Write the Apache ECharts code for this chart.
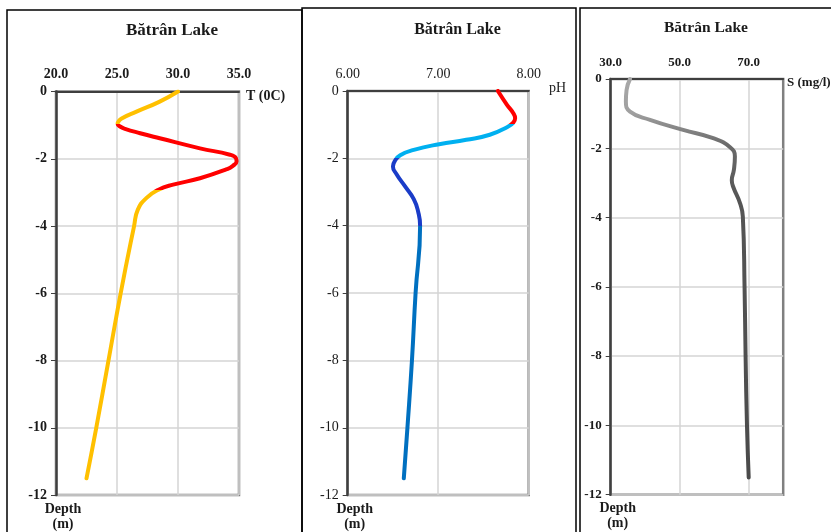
<!DOCTYPE html>
<html><head><meta charset="utf-8">
<script src="https://cdn.jsdelivr.net/npm/echarts@6/dist/echarts.min.js"></script>
<style>html,body{margin:0;padding:0;background:#fff}#c{width:831px;height:532px}</style>
</head><body><div id="c"></div>
<script>
// ---- data: [value, depth (m)] ----
const titleText = 'Bătrân Lake';
const tempName = 'T (0C)';
const phName = 'pH';
const salName = 'S (mg/l)';
const depthName = 'Depth\n(m)';

const tempTicks = [20, 25, 30, 35];
const phTicks = [6, 7, 8];
const salTicks = [30, 50, 70];

const tempProfile = [[30.0,0],[28.5,-0.3],[26.6,-0.6],[25.38,-0.80],[25.11,-0.90],[25.05,-0.96],[25.25,-1.04],[25.66,-1.11],[26.9,-1.24],[28.5,-1.39],[31.8,-1.69],[34.26,-1.88],[34.75,-1.98],[34.8,-2.08],[34.5,-2.21],[34.0,-2.31],[31.8,-2.58],[29.6,-2.77],[28.4,-2.92],[27.4,-3.17],[26.7,-3.52],[26.4,-4.0],[25.3,-6.0],[24.3,-8.0],[23.3,-10.0],[22.5,-11.5]];
const tempBreaks = [-0.96, -2.92];            // depth where colour changes
const tempColors = ['#FFC000', '#FF0000', '#FFC000'];

const phProfile = [[7.66,0],[7.76,-0.41],[7.83,-0.66],[7.85,-0.81],[7.83,-0.94],[7.77,-1.06],[7.57,-1.30],[7.31,-1.45],[7.01,-1.58],[6.73,-1.75],[6.58,-1.91],[6.52,-2.08],[6.50,-2.24],[6.54,-2.47],[6.63,-2.82],[6.73,-3.21],[6.78,-3.60],[6.80,-4.0],[6.75,-6.0],[6.71,-8.0],[6.66,-10.0],[6.62,-11.5]];
const phBreaks = [-0.97, -2.0, -4.0];
const phColors = ['#FF0000', '#00B0F0', '#1A3CC8', '#0070C0'];

const salProfile = [[35.6,0],[34.6,-0.32],[34.4,-0.65],[35.6,-0.94],[41.4,-1.18],[51.0,-1.47],[59.7,-1.71],[64.6,-1.97],[66.0,-2.24],[65.7,-2.63],[65.1,-2.92],[65.5,-3.11],[67.5,-3.59],[68.3,-3.97],[68.8,-6.0],[69.1,-8.0],[69.5,-10.0],[70.0,-11.5]];

// ---- chart ----
const serif = '"Liberation Serif","DejaVu Serif",serif';
const chart = echarts.init(document.getElementById('c'), null, {renderer:'canvas'});

function xAx(idx, min, max, ticks, dec, bold, fs) {
  return {
    type:'value', gridIndex:idx, position:'top', min:min, max:max,
    axisLine:{onZero:false, lineStyle:{color:'#3f3f3f', width:2}},
    axisTick:{show:false, customValues:ticks},
    axisLabel:{customValues:ticks, margin:10, fontFamily:serif, fontSize:fs, fontWeight:bold?'bold':'normal', color:'#1a1a1a', formatter:v=>v.toFixed(dec)},
    splitLine:{show:true, lineStyle:{color:'#d4d4d4', width:1.5}}
  };
}
function yAx(idx, bold, fs) {
  return {
    type:'value', gridIndex:idx, min:-12, max:0, interval:2,
    name:depthName, nameLocation:'start', nameGap:6,
    nameTextStyle:{fontFamily:serif, fontSize:14, fontWeight:'bold', color:'#1a1a1a', lineHeight:15, align:'center', verticalAlign:'top', padding:[0,0,0,14]},
    axisLine:{onZero:false, lineStyle:{color:'#3f3f3f', width:2.5}},
    axisTick:{show:true, length:5, lineStyle:{color:'#3f3f3f', width:1}},
    axisLabel:{margin:9, fontFamily:serif, fontSize:fs, fontWeight:bold?'bold':'normal', color:'#1a1a1a', formatter:v=>String(v)},
    splitLine:{show:true, lineStyle:{color:'#d4d4d4', width:1.5}}
  };
}
function ser(xi, data, color) {
  const ls = {width:4, cap:'round', join:'round'};
  if (color) ls.color = color;
  return {type:'line', xAxisIndex:xi, yAxisIndex:xi, data:data, smooth:0.5, showSymbol:false, symbol:'none',
    lineStyle:ls, silent:true, z:5};
}
function pieces(breaks, colors) {
  const out = [];
  for (let i = 0; i < colors.length; i++) {
    const p = {color: colors[i]};
    if (i < breaks.length) p.gt = breaks[i];
    if (i > 0) p.lte = breaks[i-1];
    out.push(p);
  }
  return out;
}

const option = {
  animation:false,
  backgroundColor:'#fff',
  grid:[
    {left:56, top:91.5, width:183, height:404.5, show:true, borderColor:'#808080', borderWidth:2.5, backgroundColor:'transparent'},
    {left:347.7, top:91, width:181, height:405.7, show:true, borderColor:'#808080', borderWidth:2.5, backgroundColor:'transparent'},
    {left:610.7, top:79, width:172.5, height:415.7, show:true, borderColor:'#808080', borderWidth:2.5, backgroundColor:'transparent'}
  ],
  xAxis:[
    xAx(0, 20, 35, tempTicks, 1, true, 14),
    xAx(1, 6, 8, phTicks, 2, false, 14),
    xAx(2, 30, 80, salTicks, 1, true, 13)
  ],
  yAxis:[ yAx(0, true, 14), yAx(1, false, 14), yAx(2, true, 13) ],
  visualMap:[
    {type:'piecewise', show:false, seriesIndex:0, dimension:1, pieces:pieces(tempBreaks, tempColors)},
    {type:'piecewise', show:false, seriesIndex:1, dimension:1, pieces:pieces(phBreaks, phColors)}
  ],
  series:[
    ser(0, tempProfile, null),
    ser(1, phProfile, null),
    ser(2, salProfile, {type:'linear', x:0, y:0, x2:0, y2:1, colorStops:[
      {offset:0, color:'#a8a8a8'}, {offset:0.09, color:'#a0a0a0'}, {offset:0.17, color:'#6a6a6a'}, {offset:0.3, color:'#555555'}, {offset:1, color:'#4a4a4a'}]})
  ],
  graphic:[
    {type:'rect', shape:{x:7, y:10, width:295, height:540}, style:{fill:null, stroke:'#000', lineWidth:1.5}, silent:true},
    {type:'rect', shape:{x:302, y:8, width:274, height:540}, style:{fill:null, stroke:'#000', lineWidth:1.5}, silent:true},
    {type:'rect', shape:{x:580, y:8, width:260, height:540}, style:{fill:null, stroke:'#000', lineWidth:1.5}, silent:true},
    {type:'text', x:172, y:31, style:{text:titleText, font:'bold 17px '+serif, fill:'#1a1a1a', textAlign:'center', textVerticalAlign:'middle'}},
    {type:'text', x:457.5, y:30, style:{text:titleText, font:'bold 16px '+serif, fill:'#1a1a1a', textAlign:'center', textVerticalAlign:'middle'}},
    {type:'text', x:706, y:28, style:{text:titleText, font:'bold 15.5px '+serif, fill:'#1a1a1a', textAlign:'center', textVerticalAlign:'middle'}},
    {type:'text', x:246, y:96, style:{text:tempName, font:'bold 14px '+serif, fill:'#1a1a1a', textAlign:'left', textVerticalAlign:'middle'}},
    {type:'text', x:549, y:88, style:{text:phName, font:'14px '+serif, fill:'#1a1a1a', textAlign:'left', textVerticalAlign:'middle'}},
    {type:'text', x:787, y:83, style:{text:salName, font:'bold 13px '+serif, fill:'#1a1a1a', textAlign:'left', textVerticalAlign:'middle'}}
  ]
};
chart.setOption(option);
</script>
</body></html>
